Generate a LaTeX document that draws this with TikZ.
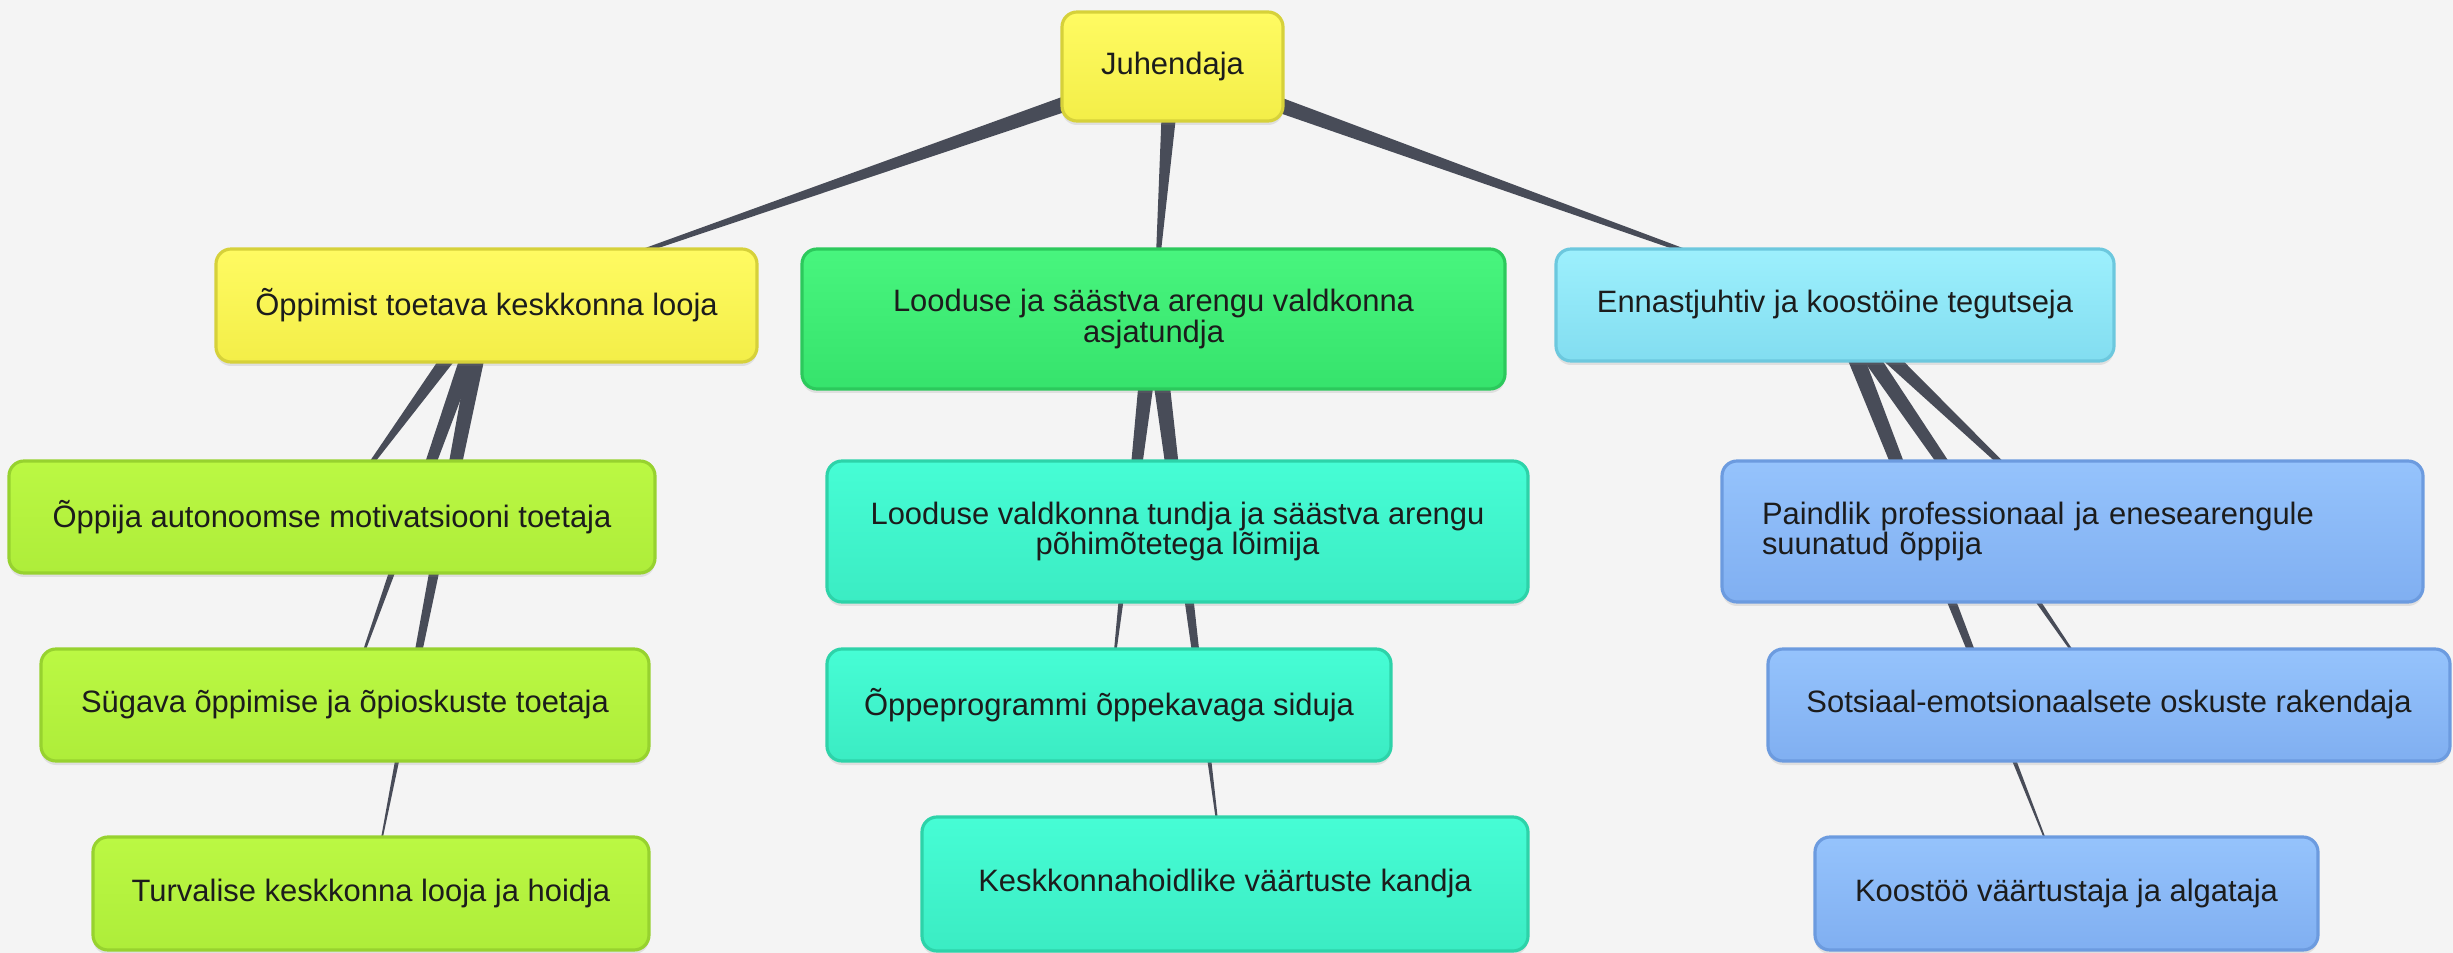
\documentclass[tikz,border=0pt]{standalone}
\usepackage[svgnames, dvipsnames, usenames]{xcolor}
\usepackage{fontspec}
\setmainfont{Liberation Sans}
\usepackage{tikz}
\usetikzlibrary{calc,shadows}

\definecolor{bgcol}{HTML}{F4F4F4}
\definecolor{linkcol}{HTML}{484C58}
\definecolor{txtcol}{HTML}{1C1C1C}
\definecolor{yeltop}{HTML}{FFFB62}
\definecolor{yelbot}{HTML}{F3EE48}
\definecolor{yeldraw}{HTML}{D6D13A}
\definecolor{grntop}{HTML}{48F57E}
\definecolor{grnbot}{HTML}{36E36C}
\definecolor{grndraw}{HTML}{2CC95C}
\definecolor{cyntop}{HTML}{9DF0FD}
\definecolor{cynbot}{HTML}{82DDF0}
\definecolor{cyndraw}{HTML}{6CC8DE}
\definecolor{limtop}{HTML}{BBF843}
\definecolor{limbot}{HTML}{AEED3A}
\definecolor{limdraw}{HTML}{97D22F}
\definecolor{aqutop}{HTML}{46FDD5}
\definecolor{aqubot}{HTML}{3BECC3}
\definecolor{aqudraw}{HTML}{2DD3A9}
\definecolor{blutop}{HTML}{95C3FC}
\definecolor{blubot}{HTML}{80AFF1}
\definecolor{bludraw}{HTML}{6C9BDF}

\pgfdeclarelayer{back}
\pgfdeclarelayer{links}
\pgfsetlayers{back,links,main}

% tapered link: wide at the parent, sharp at the child
\newcommand{\taperlink}[2]{%
  \fill[linkcol] ($(#1.center)!0.9mm!90:(#2.center)$) -- (#2.center)
    -- ($(#1.center)!0.9mm!-90:(#2.center)$) -- cycle;}

\begin{document}
\begin{tikzpicture}[
  mapnode/.style={rounded corners=0.15cm, line width=0.9pt, text=txtcol,
    font=\fontsize{8.8}{8.6}\selectfont, align=center,
    drop shadow={shadow xshift=0pt, shadow yshift=-0.04cm, opacity=0.18}},
  yelnode/.style={mapnode, draw=yeldraw, top color=yeltop, bottom color=yelbot},
  grnnode/.style={mapnode, draw=grndraw, top color=grntop, bottom color=grnbot},
  cynnode/.style={mapnode, draw=cyndraw, top color=cyntop, bottom color=cynbot},
  limnode/.style={mapnode, draw=limdraw, top color=limtop, bottom color=limbot},
  aqunode/.style={mapnode, draw=aqudraw, top color=aqutop, bottom color=aqubot},
  blunode/.style={mapnode, draw=bludraw, top color=blutop, bottom color=blubot}]
%%%%% Canvas %%%%%
\useasboundingbox (0,0) rectangle (24.53,-9.53);
\begin{pgfonlayer}{back}
\fill[bgcol] (0,0) rectangle (24.53,-9.53);
\end{pgfonlayer}

%%%%% Root %%%%%
\node[yelnode, minimum width=2.21cm, minimum height=1.09cm] (juh) at (11.725,-0.665) {Juhendaja};

%%%%% Roles %%%%%
\node[yelnode, minimum width=5.41cm, minimum height=1.13cm] (opp) at (4.865,-3.055) {Õppimist toetava keskkonna looja};
\node[grnnode, minimum width=7.03cm, minimum height=1.40cm] (loo) at (11.535,-3.19) {Looduse ja säästva arengu valdkonna\\asjatundja};
\node[cynnode, minimum width=5.58cm, minimum height=1.12cm] (enn) at (18.35,-3.05) {Ennastjuhtiv ja koostöine tegutseja};

%%%%% Left branch %%%%%
\node[limnode, minimum width=6.46cm, minimum height=1.12cm] (aut) at (3.32,-5.17) {Õppija autonoomse motivatsiooni toetaja};
\node[limnode, minimum width=6.08cm, minimum height=1.12cm] (syg) at (3.45,-7.05) {Sügava õppimise ja õpioskuste toetaja};
\node[limnode, minimum width=5.56cm, minimum height=1.13cm] (tur) at (3.71,-8.935) {Turvalise keskkonna looja ja hoidja};

%%%%% Middle branch %%%%%
\node[aqunode, minimum width=7.01cm, minimum height=1.41cm] (lvt) at (11.775,-5.315) {Looduse valdkonna tundja ja säästva arengu\\põhimõtetega lõimija};
\node[aqunode, minimum width=5.64cm, minimum height=1.12cm] (ope) at (11.09,-7.05) {Õppeprogrammi õppekavaga siduja};
\node[aqunode, minimum width=6.06cm, minimum height=1.34cm] (kes) at (12.25,-8.84) {Keskkonnahoidlike väärtuste kandja};

%%%%% Right branch %%%%%
\node[blunode, align=left, text width=6.21cm, inner xsep=0.4cm, minimum height=1.41cm] (pai) at (20.725,-5.315) {Paindlik professionaal ja enesearengule\\suunatud õppija};
\node[blunode, minimum width=6.82cm, minimum height=1.12cm] (sot) at (21.09,-7.05) {Sotsiaal-emotsionaalsete oskuste rakendaja};
\node[blunode, minimum width=5.03cm, minimum height=1.13cm] (koo) at (20.665,-8.935) {Koostöö väärtustaja ja algataja};

%%%%% Links %%%%%
\begin{pgfonlayer}{links}
\foreach \kid in {opp,loo,enn}{\taperlink{juh}{\kid}}
\foreach \kid in {aut,syg,tur}{\taperlink{opp}{\kid}}
\foreach \kid in {lvt,ope,kes}{\taperlink{loo}{\kid}}
\foreach \kid in {pai,sot,koo}{\taperlink{enn}{\kid}}
\end{pgfonlayer}
\end{tikzpicture}
\end{document}
